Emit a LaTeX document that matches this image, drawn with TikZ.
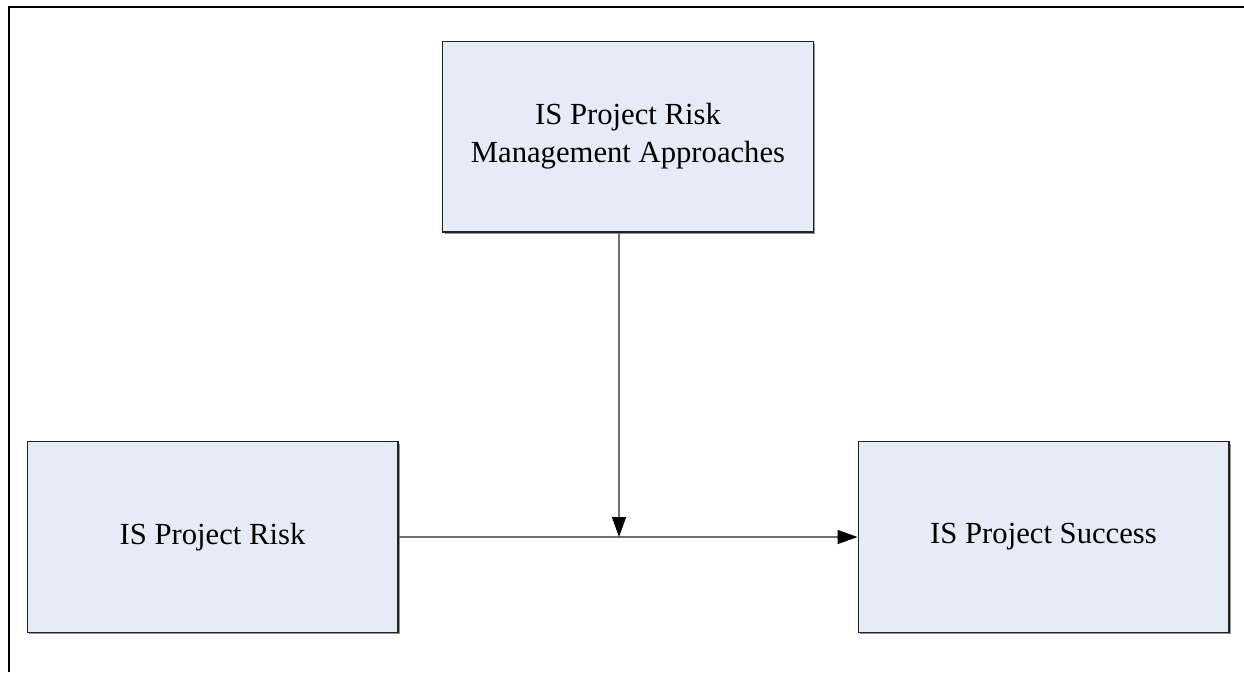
\documentclass[tikz,border=0pt]{standalone}
\usepackage{fontspec}
\setmainfont{Liberation Serif}
\usetikzlibrary{arrows.meta,shadows}
\definecolor{boxfill}{RGB}{230,236,247}
\definecolor{boxline}{RGB}{35,35,35}
\definecolor{connline}{RGB}{110,110,110}
\begin{document}
\begin{tikzpicture}[x=0.75pt,y=-0.75pt,
  conceptbox/.style={draw=boxline,line width=1pt,fill=boxfill,
    minimum width=278pt,minimum height=143pt,align=center,
    font=\fontsize{23}{28.5}\selectfont,
    drop shadow={shadow xshift=1.5pt,shadow yshift=-1.5pt,fill=gray!85,opacity=1}},
  conn/.style={draw=connline,line width=1.1pt,
    -{Triangle[length=15pt,width=10.5pt,fill=black,color=black]}}]
\useasboundingbox (0,0) rectangle (1244,672);
\fill[white] (0,0) rectangle (1244,672);
\draw[line width=1.6pt] (9,672) -- (9,7) -- (1244,7);
\node[conceptbox] (mgmt) at (628,136.5) {IS Project Risk\\Management Approaches};
\node[conceptbox] (risk) at (212.5,537) {IS Project Risk};
\node[conceptbox] (succ) at (1043.5,537) {IS Project Success};
\coordinate (junc) at (619,537);
\draw[conn] (risk.east) -- (succ.west);
\draw[conn] (mgmt.south -| junc) -- (junc);
\end{tikzpicture}
\end{document}
